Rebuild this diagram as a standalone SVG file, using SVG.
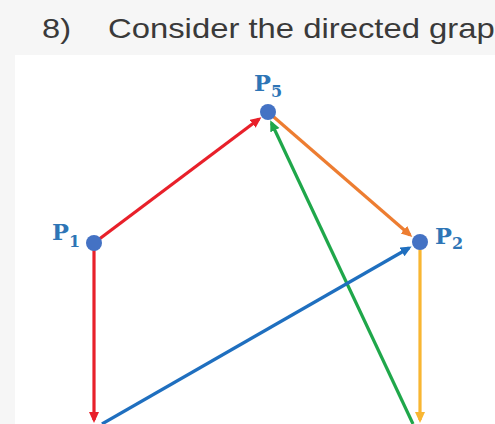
<svg xmlns="http://www.w3.org/2000/svg" width="495" height="424" viewBox="0 0 495 424">
<style>
.title{font-family:"Liberation Sans",Arial,sans-serif;font-size:28.5px;fill:#3a3a3a}
.lbl{font-family:"DejaVu Serif","Liberation Serif",serif;font-weight:bold;font-size:22.5px;fill:#2e75b6}
.sub{font-size:16px}
.node{fill:#4472c4}
.e{stroke-width:3.2;fill:none}
</style>
<defs>
<marker id="mr" markerUnits="userSpaceOnUse" markerWidth="12" markerHeight="12" refX="8" refY="5" orient="auto"><path d="M0,0 L11,5 L0,10 z" fill="#e8202a"/></marker>
<marker id="mo" markerUnits="userSpaceOnUse" markerWidth="12" markerHeight="12" refX="8" refY="5" orient="auto"><path d="M0,0 L11,5 L0,10 z" fill="#ed7d31"/></marker>
<marker id="mg" markerUnits="userSpaceOnUse" markerWidth="12" markerHeight="12" refX="8" refY="5" orient="auto"><path d="M0,0 L11,5 L0,10 z" fill="#1fa74a"/></marker>
<marker id="mb" markerUnits="userSpaceOnUse" markerWidth="12" markerHeight="12" refX="8" refY="5" orient="auto"><path d="M0,0 L11,5 L0,10 z" fill="#1f6fbf"/></marker>
<marker id="my" markerUnits="userSpaceOnUse" markerWidth="12" markerHeight="12" refX="8" refY="5" orient="auto"><path d="M0,0 L11,5 L0,10 z" fill="#f8b632"/></marker>
</defs>
<rect x="0" y="0" width="495" height="424" fill="#f6f6f6"/>
<rect x="15" y="55" width="480" height="369" fill="#ffffff"/>
<text class="title" x="42" y="38" textLength="29" lengthAdjust="spacingAndGlyphs">8)</text>
<text class="title" x="108" y="38" textLength="405" lengthAdjust="spacingAndGlyphs">Consider the directed graph</text>
<g id="edges">
<line class="e" x1="94" y1="243" x2="259" y2="119" stroke="#e8202a" marker-end="url(#mr)"/>
<line class="e" x1="268" y1="112" x2="410" y2="235" stroke="#ed7d31" marker-end="url(#mo)"/>
<line class="e" x1="413" y1="424" x2="271.5" y2="123" stroke="#1fa74a" marker-end="url(#mg)"/>
<line class="e" x1="102" y1="424" x2="409" y2="248" stroke="#1f6fbf" marker-end="url(#mb)"/>
<line class="e" x1="94" y1="243" x2="94" y2="420" stroke="#e8202a" marker-end="url(#mr)"/>
<line class="e" x1="420" y1="242" x2="420" y2="420" stroke="#f8b632" marker-end="url(#my)"/>
</g>
<g id="P5"><circle class="node" cx="268" cy="112" r="8"/><text class="lbl" x="254" y="91">P<tspan class="sub" dy="6">5</tspan></text></g>
<g id="P2"><circle class="node" cx="420" cy="242" r="8"/><text class="lbl" x="435" y="244">P<tspan class="sub" dy="5">2</tspan></text></g>
<g id="P1"><circle class="node" cx="94" cy="243" r="8"/><text class="lbl" x="52" y="240">P<tspan class="sub" dy="7">1</tspan></text></g>
</svg>
